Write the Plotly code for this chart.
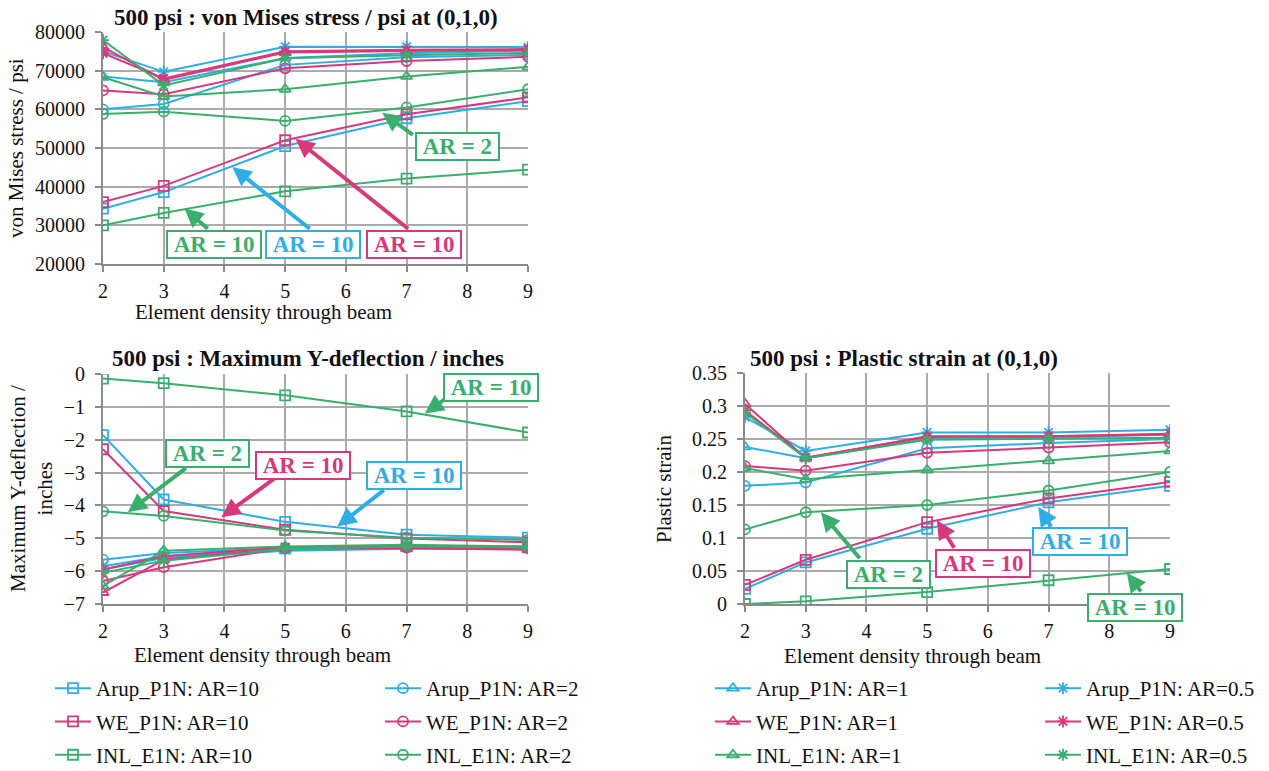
import plotly.graph_objects as go

# ---------------- data ----------------
density = [2, 3, 5, 7, 9]
codes = ["Arup_P1N", "WE_P1N", "INL_E1N"]
aspect_ratios = ["10", "2", "1", "0.5"]

# von Mises stress / psi at (0,1,0)
vm_arup_10 = [34300, 38600, 50500, 57700, 62100]
vm_arup_2 = [60000, 61400, 71500, 73500, 74100]
vm_arup_1 = [68500, 67000, 73300, 74500, 75200]
vm_arup_05 = [75000, 69700, 76200, 76200, 76100]
vm_we_10 = [36000, 40200, 52000, 58700, 63100]
vm_we_2 = [64900, 63900, 70600, 72500, 73600]
vm_we_1 = [76100, 67600, 74700, 75100, 75300]
vm_we_05 = [74500, 68000, 75000, 75400, 75600]
vm_inl_10 = [30000, 33200, 38800, 42100, 44400]
vm_inl_2 = [58800, 59400, 57000, 60500, 65200]
vm_inl_1 = [68300, 63300, 65200, 68500, 71000]
vm_inl_05 = [77900, 66200, 73200, 74000, 74600]

# Maximum Y-deflection / inches
df_arup_10 = [-1.86, -3.82, -4.50, -4.89, -4.98]
df_arup_2 = [-5.65, -5.45, -5.30, -5.25, -5.25]
df_arup_1 = [-5.95, -5.60, -5.38, -5.32, -5.32]
df_arup_05 = [-5.85, -5.55, -5.35, -5.28, -5.28]
df_we_10 = [-2.29, -4.17, -4.74, -5.01, -5.12]
df_we_2 = [-6.30, -5.88, -5.30, -5.28, -5.30]
df_we_1 = [-6.65, -5.65, -5.30, -5.30, -5.35]
df_we_05 = [-5.95, -5.55, -5.27, -5.26, -5.30]
df_inl_10 = [-0.14, -0.28, -0.65, -1.14, -1.78]
df_inl_2 = [-4.18, -4.32, -4.76, -4.98, -5.05]
df_inl_1 = [-6.45, -5.38, -5.25, -5.20, -5.25]
df_inl_05 = [-6.05, -5.68, -5.32, -5.25, -5.28]

# Plastic strain at (0,1,0)
ps_arup_10 = [0.023, 0.063, 0.114, 0.154, 0.179]
ps_arup_2 = [0.179, 0.184, 0.236, 0.244, 0.250]
ps_arup_1 = [0.238, 0.221, 0.250, 0.252, 0.257]
ps_arup_05 = [0.283, 0.232, 0.260, 0.260, 0.264]
ps_we_10 = [0.029, 0.067, 0.124, 0.160, 0.185]
ps_we_2 = [0.209, 0.202, 0.229, 0.237, 0.245]
ps_we_1 = [0.303, 0.221, 0.254, 0.254, 0.257]
ps_we_05 = [0.293, 0.222, 0.253, 0.254, 0.258]
ps_inl_10 = [0.000, 0.004, 0.018, 0.036, 0.053]
ps_inl_2 = [0.113, 0.139, 0.150, 0.172, 0.200]
ps_inl_1 = [0.206, 0.189, 0.203, 0.217, 0.232]
ps_inl_05 = [0.290, 0.221, 0.249, 0.250, 0.252]

vm = {"Arup_P1N": [vm_arup_10, vm_arup_2, vm_arup_1, vm_arup_05],
      "WE_P1N": [vm_we_10, vm_we_2, vm_we_1, vm_we_05],
      "INL_E1N": [vm_inl_10, vm_inl_2, vm_inl_1, vm_inl_05]}
dfl = {"Arup_P1N": [df_arup_10, df_arup_2, df_arup_1, df_arup_05],
       "WE_P1N": [df_we_10, df_we_2, df_we_1, df_we_05],
       "INL_E1N": [df_inl_10, df_inl_2, df_inl_1, df_inl_05]}
ps = {"Arup_P1N": [ps_arup_10, ps_arup_2, ps_arup_1, ps_arup_05],
      "WE_P1N": [ps_we_10, ps_we_2, ps_we_1, ps_we_05],
      "INL_E1N": [ps_inl_10, ps_inl_2, ps_inl_1, ps_inl_05]}

titles = ["500 psi : von Mises stress / psi at (0,1,0)",
          "500 psi : Maximum Y-deflection / inches",
          "500 psi : Plastic strain at (0,1,0)"]
x_title = "Element density through beam"
y_titles = ["von Mises stress / psi", "Maximum Y-deflection /<br>inches", "Plastic strain"]
ps_ticks = [0, 0.05, 0.1, 0.15, 0.2, 0.25, 0.3, 0.35]
ps_ticktext = ["0", "0.05", "0.1", "0.15", "0.2", "0.25", "0.3", "0.35"]

# ---------------- style / geometry ----------------
FONT = "Liberation Serif"
W, H = 1269, 771
COLORS = {"Arup_P1N": "#2FAEE4", "WE_P1N": "#D8397C", "INL_E1N": "#3AAE6C"}
SYMBOLS = ["square-open", "circle-open", "triangle-up-open", "asterisk-open"]
GRID = "#ABABAB"
AXLINE = "#8A8A8A"
TXT = "#111111"


def fx(px):
    return px / W


def fy(py):
    return 1 - py / H


fig = go.Figure()

panels = [("x", "y", vm), ("x2", "y2", dfl), ("x3", "y3", ps)]
legend_names = ["legend", "legend2", "legend3", "legend4"]
for pi, (xa, ya, data) in enumerate(panels):
    for ci, code in enumerate(codes):
        for ai, ar in enumerate(aspect_ratios):
            fig.add_trace(go.Scatter(
                x=density, y=data[code][ai], xaxis=xa, yaxis=ya,
                mode="lines+markers",
                name=f"{code}: AR={ar}",
                legend=legend_names[ai],
                legendgroup=f"{code}{ar}",
                showlegend=(pi == 0),
                line=dict(color=COLORS[code], width=2),
                marker=dict(symbol=SYMBOLS[ai], size=10, color=COLORS[code],
                            line=dict(color=COLORS[code], width=1.8)),
            ))


def xaxis_cfg(d0, d1, anchor):
    return dict(domain=[fx(d0), fx(d1)], anchor=anchor, range=[2, 9],
                dtick=1, tick0=2, showgrid=True, gridcolor=GRID, gridwidth=1.6,
                showline=True, linecolor=AXLINE, linewidth=2, mirror=False,
                ticks="outside", ticklen=6, tickwidth=1.6, tickcolor=AXLINE,
                zeroline=False, ticklabelstandoff=2,
                tickfont=dict(family=FONT, size=20, color=TXT))


def yaxis_cfg(top, bottom, anchor, rng, dtick):
    return dict(domain=[fy(bottom), fy(top)], anchor=anchor, range=rng,
                dtick=dtick, showgrid=True, gridcolor=GRID, gridwidth=1.6,
                showline=True, linecolor=AXLINE, linewidth=2, mirror=False,
                ticks="outside", ticklen=6, tickwidth=1.6, tickcolor=AXLINE,
                zeroline=False, ticklabelstandoff=6,
                tickfont=dict(family=FONT, size=20, color=TXT))


layout_axes = dict(
    xaxis=xaxis_cfg(103, 528, "y"),
    yaxis=yaxis_cfg(32, 264, "x", [20000, 80000], 10000),
    xaxis2=xaxis_cfg(103, 528, "y2"),
    yaxis2=yaxis_cfg(374, 604, "x2", [-7, 0], 1),
    xaxis3=xaxis_cfg(745, 1170, "y3"),
    yaxis3=yaxis_cfg(373, 604, "x3", [0, 0.35], 0.05),
)
layout_axes["yaxis"]["tickformat"] = "d"
layout_axes["yaxis3"]["tickvals"] = ps_ticks
layout_axes["yaxis3"]["ticktext"] = ps_ticktext

annotations = []
# titles
for (cx, cy, txt) in [(306, 17, titles[0]), (308, 358, titles[1]), (904, 358, titles[2])]:
    annotations.append(dict(xref="paper", yref="paper", x=fx(cx), y=fy(cy),
                            text=f"<b>{txt}</b>", showarrow=False,
                            font=dict(family=FONT, size=23, color=TXT),
                            xanchor="center", yanchor="middle"))
# x-axis titles
for (cx, cy) in [(263, 312), (262, 655), (912, 656)]:
    annotations.append(dict(xref="paper", yref="paper", x=fx(cx), y=fy(cy),
                            text=x_title, showarrow=False,
                            font=dict(family=FONT, size=21, color=TXT),
                            xanchor="center", yanchor="middle"))
# y-axis titles
for (cx, cy, txt) in [(16, 148, y_titles[0]), (31, 489, y_titles[1]), (664, 489, y_titles[2])]:
    annotations.append(dict(xref="paper", yref="paper", x=fx(cx), y=fy(cy),
                            text=txt, showarrow=False, textangle=-90,
                            font=dict(family=FONT, size=21, color=TXT),
                            xanchor="center", yanchor="middle"))

# labelled arrows: (xref, yref, box_px_x, box_px_y, tail_x, tail_y, tip_x, tip_y, text, colour)
callouts = [
    ("x", "y", 214, 245, 3.75, 28800, 3.34, 34400, "AR = 10", "INL_E1N"),
    ("x", "y", 313, 245, 5.43, 28800, 4.13, 45100, "AR = 10", "Arup_P1N"),
    ("x", "y", 414, 245, 7.05, 28800, 5.17, 52400, "AR = 10", "WE_P1N"),
    ("x", "y", 457, 146, 7.13, 53100, 6.60, 59100, "AR = 2", "INL_E1N"),
    ("x2", "y2", 491, 387, 7.68, -0.70, 7.30, -1.20, "AR = 10", "INL_E1N"),
    ("x2", "y2", 208, 453, 3.39, -2.83, 2.41, -4.21, "AR = 2", "INL_E1N"),
    ("x2", "y2", 303, 465, 4.84, -3.16, 3.95, -4.36, "AR = 10", "WE_P1N"),
    ("x2", "y2", 414, 475, 6.65, -3.50, 5.86, -4.64, "AR = 10", "Arup_P1N"),
    ("x3", "y3", 888, 574, 3.91, 0.067, 3.25, 0.139, "AR = 2", "INL_E1N"),
    ("x3", "y3", 983, 563, 5.46, 0.083, 5.16, 0.127, "AR = 10", "WE_P1N"),
    ("x3", "y3", 1080, 541, 7.06, 0.115, 6.83, 0.147, "AR = 10", "Arup_P1N"),
    ("x3", "y3", 1135, 607, 8.54, 0.0167, 8.29, 0.047, "AR = 10", "INL_E1N"),
]
for (xr, yr, bx, by, tx, ty, hx, hy, txt, code) in callouts:
    col = COLORS[code]
    annotations.append(dict(xref=xr, yref=yr, axref=xr, ayref=yr, x=hx, y=hy, ax=tx, ay=ty,
                            text="", showarrow=True, arrowhead=2, arrowsize=0.95,
                            arrowwidth=4, arrowcolor=col, standoff=0, startstandoff=0))
    annotations.append(dict(xref="paper", yref="paper", x=fx(bx), y=fy(by),
                            text=f"&nbsp;<b>{txt}</b>&nbsp;",
                            showarrow=False, font=dict(family=FONT, size=23, color=col),
                            bgcolor="white", bordercolor=col, borderwidth=2, borderpad=0,
                            xanchor="center", yanchor="middle"))

legend_cols = [50, 380, 710, 1040]
legends = {}
for i, lx in enumerate(legend_cols):
    legends[legend_names[i]] = dict(
        x=fx(lx), y=fy(668), xanchor="left", yanchor="top",
        orientation="v", tracegroupgap=3, bgcolor="rgba(0,0,0,0)",
        font=dict(family=FONT, size=21, color=TXT), itemwidth=36,
    )

fig.update_layout(
    width=W, height=H, autosize=False,
    margin=dict(l=0, r=0, t=0, b=0, pad=0, autoexpand=False),
    paper_bgcolor="white", plot_bgcolor="white",
    font=dict(family=FONT, color=TXT),
    annotations=annotations,
    **layout_axes,
    **legends,
)

fig.write_html("out.html",
               config={"displayModeBar": False},
               post_script="document.body.style.margin='0px';document.body.style.overflow='hidden';")
